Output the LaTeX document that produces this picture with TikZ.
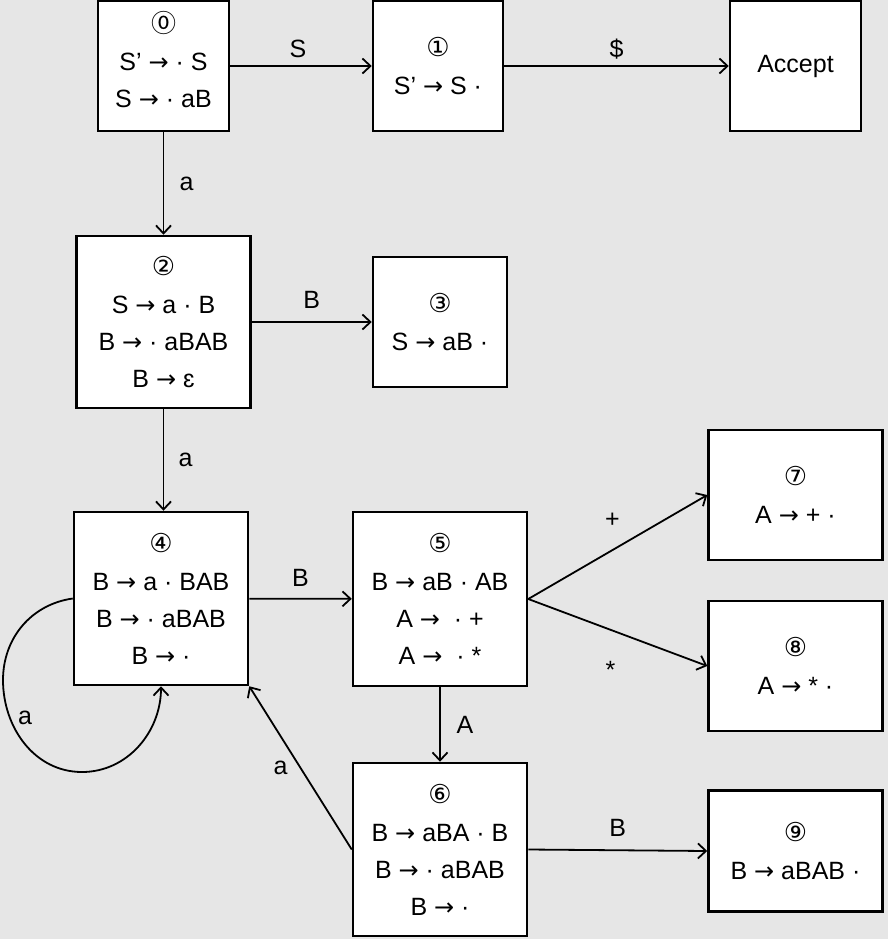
\documentclass[tikz,border=0pt]{standalone}
\usepackage{fontspec}
\setmainfont{Liberation Sans}
\newfontfamily\circfont{DejaVu Sans}
\newfontfamily\cjkfont{Noto Sans CJK SC}
\usetikzlibrary{arrows.meta}

\definecolor{bgray}{HTML}{E6E6E6}

\tikzset{
  state/.style={draw=black, fill=white, line width=2.5pt, inner sep=0pt,
    align=center, font=\fontsize{25}{37}\selectfont},
  plain/.style={inner sep=0pt, align=center, font=\fontsize{25}{37}\selectfont},
  edge/.style={line width=1.8pt, -{Straight Barb[length=8pt,width=15pt,line width=1.8pt]}},
  lbl/.style={font=\fontsize{25}{28}\selectfont, inner sep=0pt}
}
% circled state number on its own line
\newcommand{\cn}[1]{{\circfont\fontsize{26}{28}\selectfont #1}\\[1pt]}
\newcommand{\cz}{{\cjkfont\fontsize{25}{28}\selectfont ⓪}\\[1pt]}
% production arrow
\newcommand{\ar}{{\circfont\fontsize{24}{24}\selectfont →}}

\begin{document}
\begin{tikzpicture}[x=1pt, y=-1pt]
  \fill[bgray] (0,0) rectangle (888,939);
  \useasboundingbox (0,0) rectangle (888,939);

  % item-set states
  \node[state, minimum width=131pt, minimum height=130pt] (s0) at (163.5,66) {};
  \node[plain] (t0) at ([yshift=6pt]s0.center)
    {\cz S’ \ar{} · S\\S \ar{} · aB};
  \node[state, minimum width=130pt, minimum height=130pt] (s1) at (438,66)
    {\cn{①}S’ \ar{} S ·};
  \node[state, minimum width=131pt, minimum height=130pt] (acc) at (795.5,66)
    {\raisebox{-4pt}{Accept}};
  \node[state, minimum width=174pt, minimum height=172pt] (s2) at (163.5,322)
    {\cn{②}S \ar{} a · B\\B \ar{} · aBAB\\B \ar{} ɛ};
  \node[state, minimum width=134pt, minimum height=130pt] (s3) at (440,322)
    {\cn{③}S \ar{} aB ·};
  \node[state, minimum width=174pt, minimum height=173pt] (s4) at (161,598.5)
    {\cn{④}B \ar{} a · BAB\\B \ar{} · aBAB\\B \ar{} ·};
  \node[state, minimum width=174pt, minimum height=174pt] (s5) at (440,599)
    {\cn{⑤}B \ar{} aB · AB\\A \ar{}\ \ · +\\A \ar{}\ \ · *};
  \node[state, minimum width=174pt, minimum height=173pt] (s6) at (440,849.5)
    {\cn{⑥}B \ar{} aBA · B\\B \ar{} · aBAB\\B \ar{} ·};
  \node[state, minimum width=174pt, minimum height=130pt] (s7) at (795.5,495)
    {\cn{⑦}A \ar{} + ·};
  \node[state, minimum width=174pt, minimum height=130pt] (s8) at (795.5,666)
    {\cn{⑧}A \ar{} * ·};
  \node[state, minimum width=174pt, minimum height=121pt] (s9) at (795.5,851)
    {\cn{⑨}B \ar{} aBAB ·};

  % transitions
  \draw[edge] (s0) -- (s1) node[lbl, midway, yshift=17pt, xshift=-3pt] {S};
  \draw[edge] (s1) -- (acc) node[lbl, midway, yshift=17pt] {\$};
  \draw[edge] (s0) -- (s2) node[lbl, midway, xshift=23pt] {a};
  \draw[edge] (s2) -- (s3) node[lbl, midway, yshift=22pt] {B};
  \draw[edge] (s2.south) -- (s2.south |- s4.north) node[lbl, midway, xshift=22pt] {a};
  \draw[edge] (s4) -- (s5) node[lbl, midway, yshift=21pt] {B};
  \draw[edge] (s5.east) -- (s7.west) node[lbl, pos=0.47, yshift=30pt] {+};
  \draw[edge] (s5.east) -- (s8.west) node[lbl, pos=0.46, yshift=-40pt] {*};
  \draw[edge] (s5) -- (s6) node[lbl, midway, xshift=25pt] {A};
  \draw[edge] (s6.west) -- (s4.south east) node[lbl, midway, xshift=-20pt] {a};
  \draw[edge] (s6.east) -- (s9.west) node[lbl, midway, yshift=22pt] {B};

  % self-loop on state 4
  \coordinate (lpl) at (3,680);
  \coordinate (lpb) at (82,772);
  \draw[edge] (s4.west) to[out=188, in=90] (lpl) to[out=-90, in=180] (lpb)
    to[out=0, in=-90] (s4.south);
  \node[lbl] (la) at (25,718) {a};
\end{tikzpicture}
\end{document}
